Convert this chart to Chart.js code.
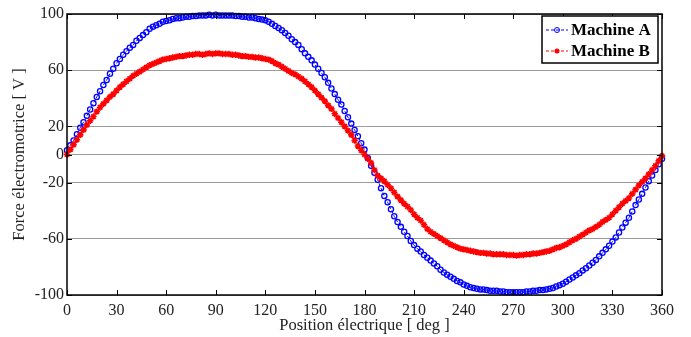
<!DOCTYPE html>
<html>
<head>
<meta charset="utf-8">
<script src="https://cdn.jsdelivr.net/npm/chart.js@4"></script>
<style>
  html, body { margin: 0; padding: 0; background: #fff; }
  #wrap { width: 691px; height: 337px; }
</style>
</head>
<body>
<div id="wrap"><canvas id="chart"></canvas></div>
<script>
// electrical position [deg]
const positions = [
  0, 2, 4, 6, 8, 10, 12, 14, 16, 18, 20, 22, 24, 26, 28, 30, 32, 34, 36, 38,
  40, 42, 44, 46, 48, 50, 52, 54, 56, 58, 60, 62, 64, 66, 68, 70, 72, 74, 76, 78,
  80, 82, 84, 86, 88, 90, 92, 94, 96, 98, 100, 102, 104, 106, 108, 110, 112, 114, 116, 118,
  120, 122, 124, 126, 128, 130, 132, 134, 136, 138, 140, 142, 144, 146, 148, 150, 152, 154, 156, 158,
  160, 162, 164, 166, 168, 170, 172, 174, 176, 178, 180, 182, 184, 186, 188, 190, 192, 194, 196, 198,
  200, 202, 204, 206, 208, 210, 212, 214, 216, 218, 220, 222, 224, 226, 228, 230, 232, 234, 236, 238,
  240, 242, 244, 246, 248, 250, 252, 254, 256, 258, 260, 262, 264, 266, 268, 270, 272, 274, 276, 278,
  280, 282, 284, 286, 288, 290, 292, 294, 296, 298, 300, 302, 304, 306, 308, 310, 312, 314, 316, 318,
  320, 322, 324, 326, 328, 330, 332, 334, 336, 338, 340, 342, 344, 346, 348, 350, 352, 354, 356, 358,
  360
];

// Machine A emf [V]
const machineA = [
  3, 6.5, 10, 14.5, 19, 23, 27.5, 32, 36.5, 41, 45, 49.5, 53, 57.5, 61, 65, 68, 71, 73.5, 76,
  78, 81, 83, 85, 87, 89.5, 91, 92, 93, 94.5, 95, 95.5, 96.5, 97, 97, 97.5, 98, 98, 98.5, 98.5,
  99, 99, 99, 99.5, 99, 99.5, 99, 99, 99, 99, 99, 98.5, 98.5, 98, 98, 97.5, 97.5, 97, 96.5, 96,
  95.5, 94.5, 93, 91.5, 90, 88.5, 86.5, 84.5, 82, 80, 78, 75, 72, 69.5, 67, 64, 61, 58, 55, 51,
  47, 43, 39, 35.5, 31, 26.5, 22, 17.5, 13, 8, 3.5, -2.5, -8, -13, -18, -24, -29.5, -34, -39, -44,
  -48, -51.5, -55, -58, -61.5, -64.5, -67, -69, -71.5, -73.5, -75.5, -77.5, -79.5, -82, -84, -85.5, -87, -88.5, -90, -91,
  -92.5, -93.5, -94.5, -95, -95.5, -96, -96, -96.5, -97, -97, -97, -97.5, -97.5, -98, -98, -98, -98, -98, -98, -97.5,
  -97.5, -97, -97, -96.5, -96.5, -96, -95.5, -95, -94, -93, -92, -90.5, -89, -87.5, -86, -84.5, -82.5, -81, -79, -77,
  -75, -72.5, -70, -67.5, -65, -62, -59, -55.5, -52, -48.5, -45, -40.5, -36, -32, -28, -23.5, -19, -15, -11, -7,
  -3
];

// Machine B emf [V]
const machineB = [
  0, 3.5, 7, 10.5, 14, 17.5, 21, 24, 27, 30.5, 33.5, 36, 38.5, 41, 43, 45.5, 48, 50, 52, 54,
  56, 57.5, 59, 60.5, 62, 63.5, 64.5, 65.5, 66.5, 67.5, 68, 68.5, 69, 69.5, 70, 70, 70.5, 71, 71, 71.5,
  71.5, 71, 71.5, 72, 71.5, 72, 72, 71.5, 71.5, 71.5, 71, 71, 70.5, 70, 70, 69.5, 69.5, 69, 69, 68.5,
  68, 67.5, 66.5, 65, 64, 62.5, 61, 59.5, 58, 57, 55.5, 54, 52, 50, 48, 45.5, 43, 40.5, 38, 35,
  32.5, 29, 26, 23, 20, 17, 14, 10, 6, 3, 0, -3, -6, -11, -15, -17, -19, -21.5, -24, -27,
  -30, -32.5, -35, -37, -39.5, -42.5, -45, -47, -50, -53, -55, -56.5, -58, -59.5, -61, -62.5, -64, -65, -66, -67,
  -67.5, -68, -68.5, -69, -69.5, -70, -70, -70.5, -70.5, -71, -71, -71, -71, -71.5, -71.5, -71.5, -72, -71.5, -71.5, -71,
  -71, -70.5, -70.5, -70, -69.5, -69, -68.5, -67.5, -66.5, -66, -65, -64, -62.5, -61, -60, -58.5, -57, -55.5, -54, -53,
  -51.5, -50, -48, -46.5, -45, -42.5, -40, -37.5, -35, -33, -31, -28, -25, -22, -19.5, -17, -14, -11, -8, -4.5,
  -1
];

const xTicks = [0, 30, 60, 90, 120, 150, 180, 210, 240, 270, 300, 330, 360];
const yTicks = [-100, -60, -20, 0, 20, 60, 100];

const FONT = "'Liberation Serif', 'DejaVu Serif', serif";

// MATLAB style box, inward ticks and a legend inside the axes
const boxPlugin = {
  id: "boxPlugin",
  afterDraw(chart) {
    const c = chart.ctx;
    const a = chart.chartArea;
    const xs = chart.scales.x;
    const ys = chart.scales.y;
    const tl = 5;

    c.save();
    c.strokeStyle = "#000";
    c.lineWidth = 1.5;
    c.strokeRect(a.left, a.top, a.right - a.left, a.bottom - a.top);

    c.lineWidth = 1;
    c.beginPath();
    xTicks.forEach(v => {
      const px = Math.round(xs.getPixelForValue(v)) + 0.5;
      c.moveTo(px, a.bottom); c.lineTo(px, a.bottom - tl);
      c.moveTo(px, a.top); c.lineTo(px, a.top + tl);
    });
    yTicks.forEach(v => {
      const py = Math.round(ys.getPixelForValue(v)) + 0.5;
      c.moveTo(a.left, py); c.lineTo(a.left + tl, py);
      c.moveTo(a.right, py); c.lineTo(a.right - tl, py);
    });
    c.stroke();

    // legend
    const lx = 542, ly = 16, lw = 116, lh = 47;
    c.fillStyle = "#fff";
    c.fillRect(lx, ly, lw, lh);
    c.lineWidth = 1.5;
    c.strokeStyle = "#000";
    c.strokeRect(lx, ly, lw, lh);

    const rows = [ly + 14, ly + 35];
    chart.data.datasets.forEach((ds, i) => {
      const y = rows[i];
      c.strokeStyle = ds.borderColor;
      c.lineWidth = 1;
      c.setLineDash([3, 2]);
      c.beginPath();
      c.moveTo(lx + 4, y); c.lineTo(lx + 26, y);
      c.stroke();
      c.setLineDash([]);
      if (ds.pointStyle === "circle") {
        c.beginPath();
        c.arc(lx + 15, y, 2.5, 0, Math.PI * 2);
        c.stroke();
      } else {
        c.fillStyle = ds.borderColor;
        c.beginPath();
        c.arc(lx + 15, y, 2.5, 0, Math.PI * 2);
        c.fill();
      }
      c.fillStyle = "#000";
      c.font = "bold 17px " + FONT;
      c.textBaseline = "middle";
      c.textAlign = "left";
      c.fillText(ds.label, lx + 29, y + 1);
    });
    c.restore();
  }
};

const ctx = document.getElementById("chart");

new Chart(ctx, {
  type: "line",
  data: {
    datasets: [
      {
        label: "Machine A",
        data: positions.map((x, i) => ({ x, y: machineA[i] })),
        borderColor: "#0000ff",
        backgroundColor: "rgba(0,0,0,0)",
        borderWidth: 1,
        borderDash: [3, 2],
        pointStyle: "circle",
        pointRadius: 2.6,
        pointBorderWidth: 1.3,
        pointBorderColor: "#0000ff",
        pointBackgroundColor: "rgba(0,0,0,0)",
        order: 1,
        clip: 4
      },
      {
        label: "Machine B",
        data: positions.map((x, i) => ({ x, y: machineB[i] })),
        borderColor: "#ff0000",
        backgroundColor: "#ff0000",
        borderWidth: 1.5,
        borderDash: [3, 2],
        pointStyle: "star",
        pointRadius: 3.2,
        pointBorderWidth: 1.6,
        pointBorderColor: "#ff0000",
        order: 0,
        clip: 4
      }
    ]
  },
  options: {
    responsive: true,
    maintainAspectRatio: false,
    animation: false,
    events: [],
    layout: { padding: { left: 0, right: 29, top: 14, bottom: 0 } },
    plugins: {
      legend: { display: false },
      tooltip: { enabled: false }
    },
    scales: {
      x: {
        type: "linear",
        min: 0,
        max: 360,
        afterBuildTicks: s => { s.ticks = xTicks.map(v => ({ value: v })); },
        afterFit: s => { s.height = 42; },
        grid: { display: false, drawTicks: false },
        border: { display: false },
        ticks: { padding: 6, color: "#222", font: { family: FONT, size: 16 } },
        title: {
          display: true,
          text: "Position électrique [ deg ]",
          color: "#222",
          font: { family: FONT, size: 16.5 },
          padding: { top: 0, bottom: 1 }
        }
      },
      y: {
        min: -100,
        max: 100,
        afterBuildTicks: s => { s.ticks = yTicks.map(v => ({ value: v })); },
        afterFit: s => { s.width = 67; },
        grid: { color: "#9a9a9a", lineWidth: 1, drawTicks: false },
        border: { display: false },
        ticks: { padding: 3, color: "#222", font: { family: FONT, size: 16 } },
        title: {
          display: true,
          text: "Force électromotrice [ V ]",
          color: "#222",
          font: { family: FONT, size: 16.5 },
          padding: { top: 10, bottom: 0 }
        }
      }
    }
  },
  plugins: [boxPlugin]
});
</script>
</body>
</html>
